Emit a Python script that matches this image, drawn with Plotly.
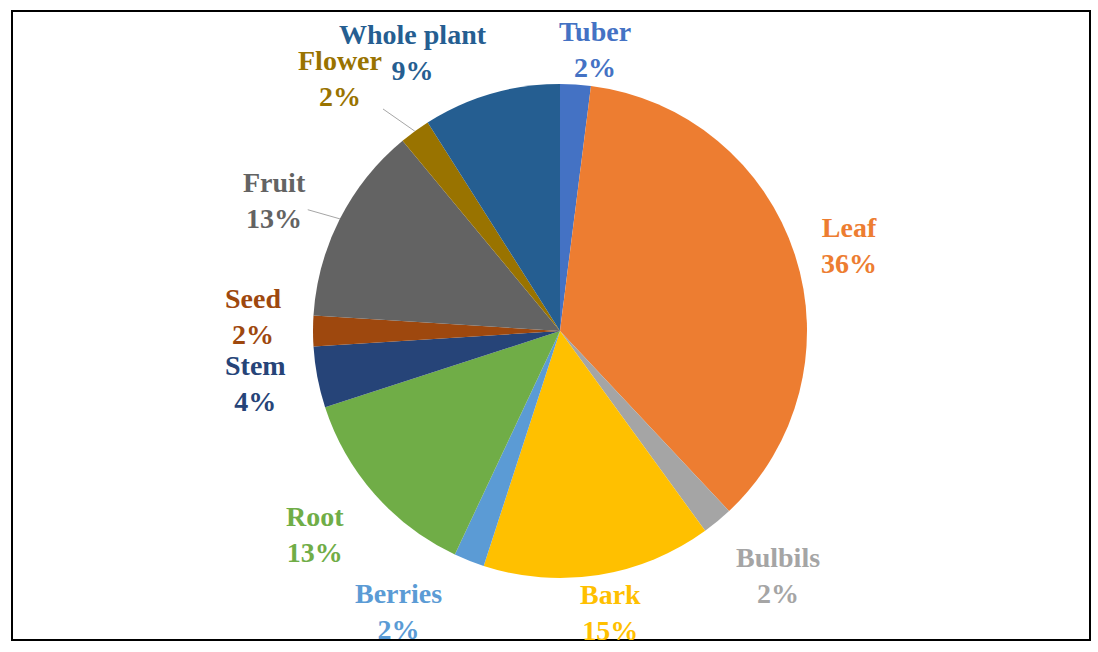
import math
import plotly.graph_objects as go

labels = ["Tuber", "Leaf", "Bulbils", "Bark", "Berries", "Root", "Stem", "Seed", "Fruit", "Flower", "Whole plant"]
values = [2, 36, 2, 15, 2, 13, 4, 2, 13, 2, 9]
colors = ["#4472C4", "#ED7D31", "#A5A5A5", "#FFC000", "#5B9BD5", "#70AD47",
          "#264478", "#9E480E", "#636363", "#997300", "#255E91"]

W, H = 1098, 652
CX, CY, R = 560, 331, 247          # pie centre / radius in pixels
FS = 28                            # label font size
GAP = 8
leader = {"Fruit", "Flower"}       # labels drawn with a leader line
nudge = {"Tuber": (17, 6), "Leaf": (10, 5), "Bulbils": (18, 3), "Bark": (5, -5),
         "Berries": (-50, -2), "Root": (-21, 6), "Stem": (-19, -2), "Seed": (-21, -15),
         "Fruit": (-15, 7), "Flower": (-40, -4), "Whole plant": (-61, 17)}

fig = go.Figure(go.Pie(
    labels=labels,
    values=values,
    marker=dict(colors=colors, line=dict(width=0)),
    sort=False,
    direction="clockwise",
    rotation=0,
    textinfo="none",
    hoverinfo="label+percent",
    showlegend=False,
    automargin=False,
    domain=dict(x=[(CX - R) / W, (CX + R) / W], y=[(H - CY - R) / H, (H - CY + R) / H]),
))

total = sum(values)
annotations = []
cum = 0
for lab, val, col in zip(labels, values, colors):
    mid = (cum + val / 2) / total * 2 * math.pi
    cum += val
    s, c = math.sin(mid), math.cos(mid)
    px, py = CX + R * s, CY - R * c
    pct = f"{round(val / total * 100)}%"
    w = max(len(lab), len(pct)) * 0.55 * FS
    h = 2 * FS * 1.1
    d = GAP + w / 2 * abs(s) + h / 2 * abs(c)
    nx, ny = nudge.get(lab, (0, 0))
    ax, ay = d * s + nx, -d * c + ny
    annotations.append(dict(
        x=px / W, y=1 - py / H, xref="paper", yref="paper",
        ax=ax, ay=ay, showarrow=True, arrowhead=0, arrowwidth=1, standoff=0,
        arrowcolor="#A6A6A6" if lab in leader else "rgba(0,0,0,0)",
        text=f"<b>{lab}<br>{pct}</b>",
        font=dict(family="Liberation Serif", size=FS, color=col),
        align="center",
    ))

fig.update_layout(
    width=W, height=H,
    margin=dict(l=0, r=0, t=0, b=0),
    paper_bgcolor="white",
    annotations=annotations,
    shapes=[dict(type="rect", xref="paper", yref="paper",
                 x0=12 / W, x1=1090 / W, y0=1 - 640 / H, y1=1 - 11 / H,
                 line=dict(color="black", width=2))],
)

fig.write_html("out.html")
